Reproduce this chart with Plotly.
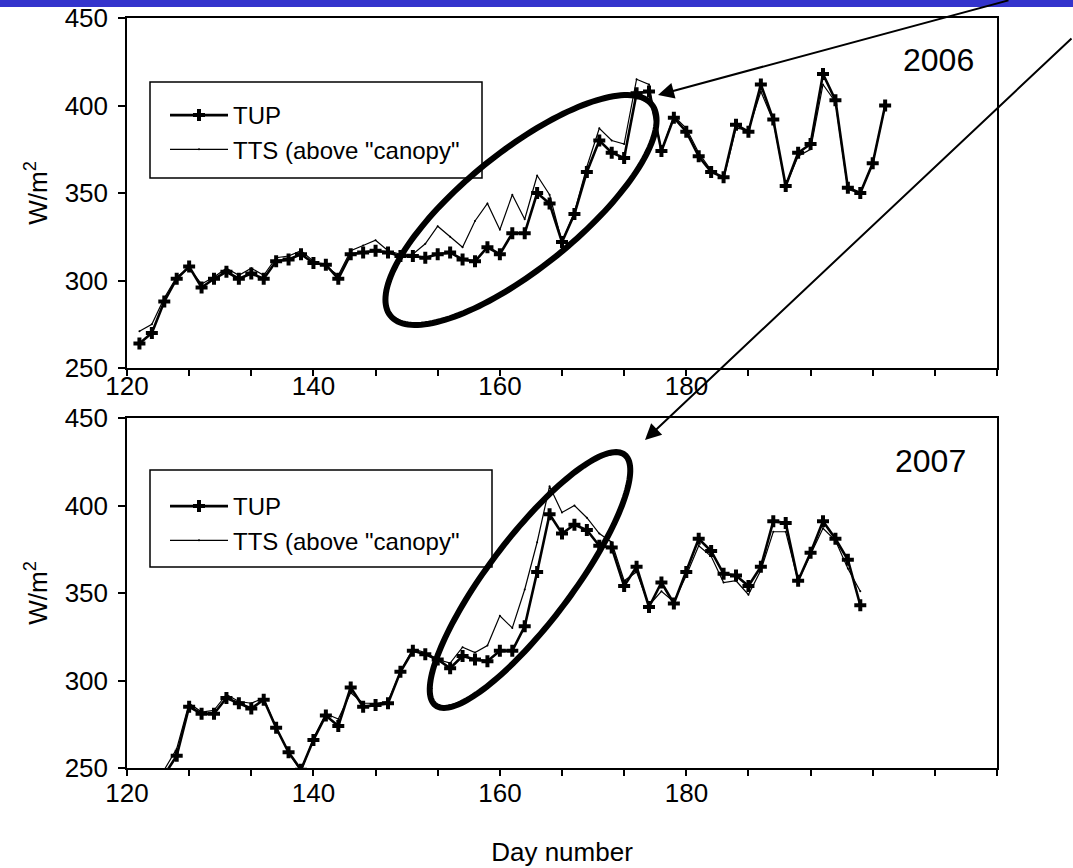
import numpy as np
import plotly.graph_objects as go

W, H = 1073, 868
FONT = "Arial, Liberation Sans, sans-serif"

# ---- data: daily mean downwelling long-wave radiation (W/m2) ----
days_2006 = list(range(121, 182))
tup_2006 = [264, 270, 288, 301, 308, 296, 301, 305, 301, 304,
            301, 311, 312, 315, 310, 309, 301, 315, 316, 317,
            316, 314, 314, 313, 315, 316, 312, 311, 319, 315,
            327, 327, 350, 344, 322, 338, 362, 380, 373, 370,
            407, 408, 374, 393, 385, 371, 362, 359, 389, 385,
            412, 392, 354, 373, 378, 418, 403, 353, 350, 367,
            400]
tts_2006 = [271, 275, 290, 302, 307, 298, 302, 307, 303, 307,
            303, 313, 314, 317, 311, 308, 303, 317, 320, 323,
            317, 315, 315, 321, 331, 325, 319, 334, 344, 329,
            349, 335, 360, 349, 322, 339, 365, 387, 380, 378,
            415, 412, 374, 394, 387, 373, 363, 358, 387, 386,
            408, 391, 354, 371, 375, 412, 402, 352, 350, 367,
            400]

days_2007 = list(range(123, 180))
tup_2007 = [246, 257, 285, 281, 281, 290, 287, 284, 289, 273,
            259, 249, 266, 280, 274, 296, 285, 286, 287, 305,
            317, 315, 312, 307, 314, 312, 311, 317, 317, 331,
            362, 395, 384, 389, 386, 377, 376, 354, 365, 342,
            356, 344, 362, 381, 374, 361, 360, 354, 365, 391,
            390, 357, 373, 391, 381, 369, 343]
tts_2007 = [249, 261, 287, 282, 283, 292, 288, 287, 290, 273,
            259, 248, 267, 281, 278, 293, 287, 287, 288, 305,
            318, 316, 312, 310, 319, 316, 320, 337, 330, 352,
            379, 411, 396, 400, 393, 384, 379, 357, 362, 343,
            351, 345, 360, 377, 371, 356, 357, 349, 363, 385,
            385, 357, 372, 387, 380, 364, 351]

years = ["2006", "2007"]
label_ticks = [120, 140, 160, 180]
series_names = ["TUP", 'TTS (above "canopy"']


def px(x):
    return x / W


def py(y):
    return 1 - y / H


# panel geometry (pixels)
X0, X1 = 127, 997
panels = [(18, 368), (418, 768)]

fig = go.Figure()

panel_data = [(days_2006, tup_2006, tts_2006), (days_2007, tup_2007, tts_2007)]
for i, (days, tup, tts) in enumerate(panel_data):
    xa = "x" if i == 0 else "x2"
    ya = "y" if i == 0 else "y2"
    lg = "legend" if i == 0 else "legend2"
    fig.add_trace(go.Scatter(
        x=days, y=tts, mode="lines+markers", name=series_names[1],
        line=dict(color="black", width=1.2),
        marker=dict(size=2, color="black"),
        xaxis=xa, yaxis=ya, legend=lg, legendrank=2))
    fig.add_trace(go.Scatter(
        x=days, y=tup, mode="lines+markers", name=series_names[0],
        line=dict(color="black", width=2.6),
        marker=dict(symbol="cross", size=10, color="black"),
        xaxis=xa, yaxis=ya, legend=lg, legendrank=1))

# empty traces so the labelled overlay axes get drawn
for xa, ya in [("x3", "y"), ("x4", "y2")]:
    fig.add_trace(go.Scatter(x=[None], y=[None], mode="lines",
                             showlegend=False, hoverinfo="skip",
                             xaxis=xa, yaxis=ya))

axis_common = dict(
    showline=True, mirror=True, linecolor="black", linewidth=1.5,
    showgrid=False, zeroline=False, automargin=False,
)
xdata = dict(axis_common, domain=[px(X0), px(X1)], range=[120, 190],
             tick0=120, dtick=5, ticks="outside", ticklen=6,
             tickcolor="black", tickwidth=1.5, showticklabels=False)
ydata = dict(axis_common, range=[250, 450], tick0=250, dtick=50,
             ticks="outside", ticklen=7, tickcolor="black", tickwidth=1.5,
             ticklabelstandoff=5,
             tickfont=dict(size=26, family=FONT, color="black"),
             title=dict(text="W/m<sup>2</sup>",
                        font=dict(size=26, family=FONT, color="black"),
                        standoff=10))
xlabels = dict(showline=False, showgrid=False, zeroline=False,
               automargin=False, range=[120, 213.3], tickvals=label_ticks,
               ticks="", tickfont=dict(size=26, family=FONT, color="black"))

fig.update_layout(
    width=W, height=H,
    margin=dict(l=0, r=0, t=0, b=0),
    paper_bgcolor="white", plot_bgcolor="white",
    font=dict(family=FONT, color="black"),
    xaxis=dict(xdata, anchor="y"),
    yaxis=dict(ydata, anchor="x", domain=[py(panels[0][1]), py(panels[0][0])]),
    xaxis2=dict(xdata, anchor="y2"),
    yaxis2=dict(ydata, anchor="x2", domain=[py(panels[1][1]), py(panels[1][0])]),
    xaxis3=dict(xlabels, overlaying="x", anchor="y", ticklabelstandoff=0),
    xaxis4=dict(xlabels, overlaying="x2", anchor="y2", ticklabelstandoff=7,
                title=dict(text="Day number",
                           font=dict(size=26, family=FONT, color="black"),
                           standoff=35)),
    legend=dict(x=px(165), y=py(93), xanchor="left", yanchor="top",
                bgcolor="rgba(0,0,0,0)", borderwidth=0,
                font=dict(size=24, family=FONT, color="black"),
                itemwidth=58, tracegroupgap=0),
    legend2=dict(x=px(165), y=py(484), xanchor="left", yanchor="top",
                 bgcolor="rgba(0,0,0,0)", borderwidth=0,
                 font=dict(size=24, family=FONT, color="black"),
                 itemwidth=58, tracegroupgap=0),
    showlegend=True,
)

# year labels
fig.add_annotation(x=px(938), y=py(60), xref="paper", yref="paper",
                   xanchor="center", yanchor="middle",
                   text=years[0], showarrow=False,
                   font=dict(size=32, family=FONT, color="black"))
fig.add_annotation(x=px(930), y=py(461), xref="paper", yref="paper",
                   xanchor="center", yanchor="middle",
                   text=years[1], showarrow=False,
                   font=dict(size=32, family=FONT, color="black"))

# legend frames
for (x0, y0, x1, y1) in [(150, 82, 482, 178), (150, 470, 492, 567)]:
    fig.add_shape(type="rect", xref="paper", yref="paper",
                  x0=px(x0), x1=px(x1), y0=py(y1), y1=py(y0),
                  line=dict(color="black", width=1.5), layer="above")


def ellipse_path(cx, cy, a, b, deg, n=160):
    t = np.linspace(0, 2 * np.pi, n, endpoint=False)
    th = np.deg2rad(deg)
    ex = cx + a * np.cos(t) * np.cos(th) - b * np.sin(t) * np.sin(th)
    ey = cy - (a * np.cos(t) * np.sin(th) + b * np.sin(t) * np.cos(th))
    pts = [f"{px(x):.5f},{py(y):.5f}" for x, y in zip(ex, ey)]
    return "M" + " L".join(pts) + " Z"


# highlight ellipses around the divergence periods
for (cx, cy, a, b, deg) in [(521, 210, 168, 58, 39), (530, 580, 157, 42, 53)]:
    fig.add_shape(type="path", xref="paper", yref="paper",
                  path=ellipse_path(cx, cy, a, b, deg),
                  line=dict(color="black", width=6), layer="above")

# pointer arrows
for (tipx, tipy, tailx, taily) in [(658, 95, 1010, 0), (645, 440, 1080, 37)]:
    fig.add_annotation(x=px(tipx), y=py(tipy), xref="paper", yref="paper",
                       ax=tailx - tipx, ay=taily - tipy, text="",
                       showarrow=True, arrowhead=2, arrowsize=1.6,
                       arrowwidth=2, arrowcolor="black", standoff=0)

# title bar along the top edge
fig.add_shape(type="rect", xref="paper", yref="paper",
              x0=0, x1=1, y0=py(7), y1=1.0,
              fillcolor="#3434CC", line=dict(width=0), layer="above")

fig.write_html("out.html")
